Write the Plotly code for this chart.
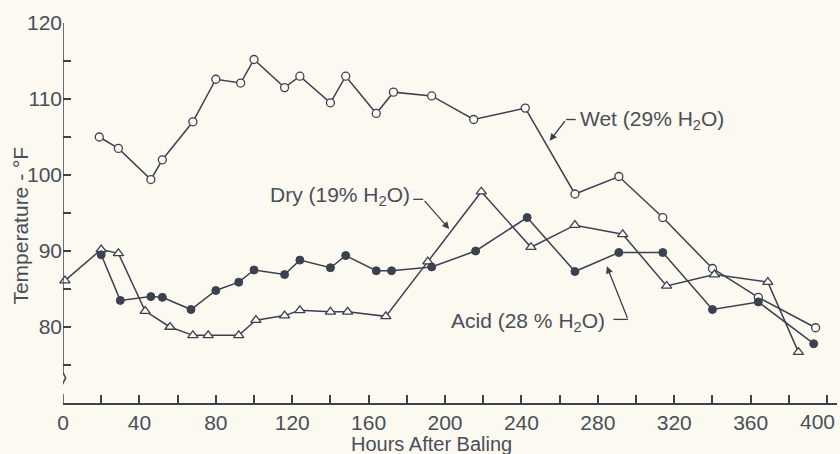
import plotly.graph_objects as go

# ---- data ----
wet_hours = [19, 29, 46, 52, 68, 80, 93, 100, 116, 124, 140, 148, 164, 173,
             193, 215, 242, 268, 291, 314, 340, 364, 394]
wet_temp = [105.0, 103.5, 99.4, 102.0, 107.0, 112.6, 112.1, 115.2, 111.5, 113.0,
            109.5, 113.0, 108.1, 110.9, 110.4, 107.3, 108.8, 97.5, 99.8, 94.4,
            87.7, 83.9, 79.9]

dry_hours = [1, 20, 29, 43, 56, 68, 76, 92, 101, 116, 124, 140, 149, 169,
             191, 219, 245, 268, 293, 316, 341, 369, 385]
dry_temp = [86.1, 90.2, 89.7, 82.1, 80.0, 78.9, 78.9, 78.9, 80.9, 81.5, 82.2,
            82.0, 82.0, 81.4, 88.6, 97.8, 90.5, 93.4, 92.2, 85.4, 86.9, 85.9, 76.7]

acid_hours = [20, 30, 46, 52, 67, 80, 92, 100, 116, 124, 140, 148, 164, 172,
              193, 216, 243, 268, 291, 314, 340, 364, 393]
acid_temp = [89.5, 83.5, 84.0, 83.9, 82.3, 84.8, 85.9, 87.5, 86.9, 88.8, 87.8,
             89.4, 87.4, 87.4, 87.9, 90.0, 94.4, 87.3, 89.8, 89.8, 82.3, 83.3, 77.8]

x_ticks = list(range(0, 401, 20))
x_labels = [str(v) if v % 40 == 0 else "" for v in x_ticks]
last_x_label = x_labels[-1]
x_labels[-1] = ""          # drawn separately, right-aligned to stay inside the page
y_ticks = list(range(75, 121, 5))
y_labels = [str(v) if v % 10 == 0 else "" for v in y_ticks]

# ---- style ----
BG = "#fbf9f0"
INK = "#3c4150"
TXT = "#4a4e58"
FONT = "Liberation Sans, Arial, sans-serif"

fig = go.Figure()

line = dict(color=INK, width=1.5)
fig.add_trace(go.Scatter(x=wet_hours, y=wet_temp, mode="lines+markers", line=line,
                         marker=dict(symbol="circle", size=8, color=BG,
                                     line=dict(color=INK, width=1.3)),
                         cliponaxis=False))
fig.add_trace(go.Scatter(x=dry_hours, y=dry_temp, mode="lines+markers", line=line,
                         marker=dict(symbol="triangle-up", size=9, color=BG,
                                     line=dict(color=INK, width=1.3)),
                         cliponaxis=False))
fig.add_trace(go.Scatter(x=acid_hours, y=acid_temp, mode="lines+markers", line=line,
                         marker=dict(symbol="circle", size=8, color=INK,
                                     line=dict(color=INK, width=1)),
                         cliponaxis=False))

# y axis line with a break near the bottom
fig.add_shape(type="path",
              path="M 0,120 L 0,74.0 L 1.4,73.3 L -1.8,71.7 L 0,71.1 L 0,70",
              xref="x", yref="y", line=dict(color=INK, width=1.5))

# leader lines (horizontal parts)
for x0, x1, y in [(263.4, 268.4, 107.3), (183.4, 188.6, 96.8), (288.2, 295.8, 81.0)]:
    fig.add_shape(type="line", x0=x0, x1=x1, y0=y, y1=y, xref="x", yref="y",
                  line=dict(color=INK, width=1.3))

# arrows (diagonal parts)
for tipx, tipy, tailx, taily in [(254.8, 104.5, 263.4, 107.3),
                                 (202.2, 92.9, 188.6, 96.8),
                                 (284.7, 88.0, 295.8, 81.0)]:
    fig.add_annotation(x=tipx, y=tipy, ax=tailx, ay=taily, xref="x", yref="y",
                       axref="x", ayref="y", text="", showarrow=True,
                       arrowhead=2, arrowsize=1.1, arrowwidth=1.3, arrowcolor=INK,
                       standoff=0, startstandoff=0)

lab_font = dict(family=FONT, size=21, color=TXT)
fig.add_annotation(x=269.5, y=107.3, xref="x", yref="y", xanchor="left", yanchor="middle",
                   text="Wet (29% H<sub>2</sub>O)", showarrow=False, font=lab_font)
fig.add_annotation(x=182.8, y=97.2, xref="x", yref="y", xanchor="right", yanchor="middle",
                   text="Dry (19% H<sub>2</sub>O)", showarrow=False, font=lab_font)
fig.add_annotation(x=285.0, y=80.6, xref="x", yref="y", xanchor="right", yanchor="middle",
                   text="Acid (28 % H<sub>2</sub>O)", showarrow=False, font=lab_font)

# last x tick label, right-aligned at the page edge
fig.add_annotation(x=1.0, y=-0.012, xref="paper", yref="paper", xanchor="right",
                   yanchor="top", text=last_x_label, showarrow=False,
                   font=dict(family=FONT, size=21, color=TXT))

# axis titles
fig.add_annotation(x=-0.055, y=0.468, xref="paper", yref="paper", textangle=-90,
                   xanchor="center", yanchor="middle",
                   text="Temperature - °F", showarrow=False,
                   font=dict(family=FONT, size=21, color=TXT))
fig.add_annotation(x=0.476, y=-0.1425, xref="paper", yref="paper", yanchor="bottom",
                   xanchor="center",
                   text="Hours After Baling", showarrow=False,
                   font=dict(family=FONT, size=20, color=TXT))

fig.update_layout(
    width=840, height=454,
    margin=dict(l=63, r=3, t=23, b=51),
    paper_bgcolor=BG, plot_bgcolor=BG,
    showlegend=False,
    xaxis=dict(range=[0, 405.2], tickvals=x_ticks, ticktext=x_labels,
               ticks="inside", ticklen=8, tickwidth=1.5, tickcolor=INK,
               showline=True, linecolor=INK, linewidth=1.5, showgrid=False,
               zeroline=False, automargin=False,
               tickfont=dict(family=FONT, size=21, color=TXT)),
    yaxis=dict(range=[70, 120], tickvals=y_ticks, ticktext=y_labels,
               ticks="inside", ticklen=8, tickwidth=1.5, tickcolor=INK,
               showline=False, showgrid=False, zeroline=False, automargin=False,
               tickfont=dict(family=FONT, size=21, color=TXT)),
)

fig.write_html("out.html", config={"displayModeBar": False},
               post_script="document.body.style.margin='0';document.body.style.background='" + BG + "';")
